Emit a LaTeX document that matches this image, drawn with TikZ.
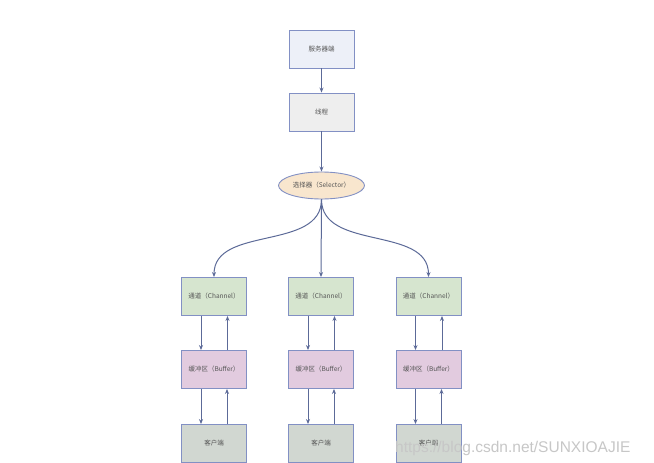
\documentclass[tikz,border=0pt]{standalone}
\usepackage{fontspec}
\setmainfont{Noto Sans CJK SC}
\newfontfamily\wmfont{Liberation Sans}
\usetikzlibrary{arrows.meta,shapes.geometric}
\definecolor{bordc}{HTML}{8290C4}
\definecolor{arrc}{HTML}{5C6A98}
\definecolor{txtc}{HTML}{555555}
\definecolor{srvfill}{HTML}{EDF0F8}
\definecolor{thrfill}{HTML}{EEEEEE}
\definecolor{selfill}{HTML}{F8E6CE}
\definecolor{chfill}{HTML}{D6E5CF}
\definecolor{buffill}{HTML}{E2CBDF}
\definecolor{clifill}{HTML}{D1D7D1}
\tikzset{
  boxnode/.style={draw=bordc,line width=0.9pt,minimum width=65pt,minimum height=38pt,inner sep=0pt,text=txtc,font=\fontsize{6.5}{8}\selectfont},
  ellnode/.style={ellipse,draw=bordc,line width=0.9pt,minimum width=86pt,minimum height=27pt,inner sep=0pt,text=txtc,font=\fontsize{6.5}{8}\selectfont},
  arr/.style={draw=arrc,line width=1pt,-{Stealth[length=5pt,width=4pt]}}
}
\begin{document}
\begin{tikzpicture}[x=1pt,y=-1pt]
\useasboundingbox[fill=white] (0,0) rectangle (654,463);
\node[boxnode,fill=srvfill] (srv) at (321.5,49) {服务器端};
\node[boxnode,fill=thrfill] (thr) at (321.5,112) {线程};
\node[ellnode,fill=selfill] (sel) at (321.5,185.5) {选择器（Selector）};
\foreach \i/\x in {1/214,2/321,3/428.5}{
  \node[boxnode,fill=chfill] (ch\i) at (\x,296.5) {通道（Channel）};
  \node[boxnode,fill=buffill] (bf\i) at (\x,369.5) {缓冲区（Buffer）};
  \node[boxnode,fill=clifill] (cl\i) at (\x,443.5) {客户端};
}
\draw[arr] (srv) -- (thr);
\draw[arr] (thr) -- (sel);
\draw[arr] (sel.south) to[out=-90,in=90] (ch1.north);
\draw[arr] (sel.south) -- (ch2.north);
\draw[arr] (sel.south) to[out=-90,in=90] (ch3.north);
\foreach \i in {1,2,3}{
  \draw[arr] ([xshift=-13pt]ch\i.south) -- ([xshift=-13pt]bf\i.north);
  \draw[arr] ([xshift=13.5pt]bf\i.north) -- ([xshift=13.5pt]ch\i.south);
  \draw[arr] ([xshift=-13pt]bf\i.south) -- ([xshift=-13pt]cl\i.north);
  \draw[arr] ([xshift=13pt]cl\i.north) -- ([xshift=13pt]bf\i.south);
}
\node[anchor=base west,inner sep=0pt,text=black!22,font=\wmfont\fontsize{15.5}{18}\selectfont] (wm) at (395,452) {https://blog.csdn.net/SUNXIOAJIE};
\end{tikzpicture}
\end{document}
